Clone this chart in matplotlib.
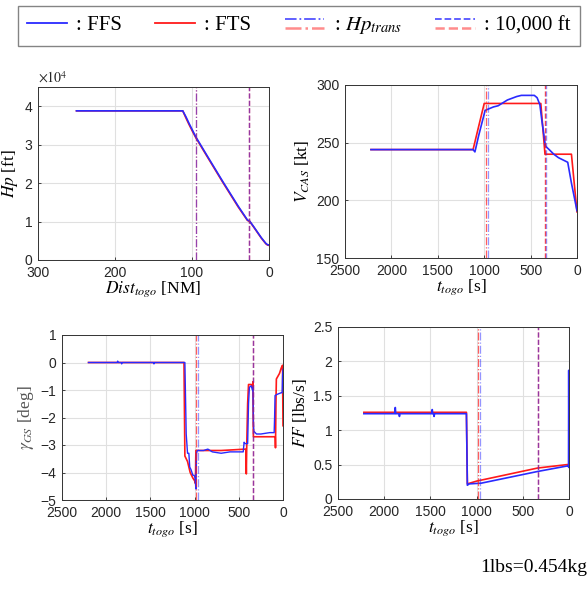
import numpy as np
import matplotlib.pyplot as plt
from matplotlib.lines import Line2D
from matplotlib.legend_handler import HandlerBase

plt.rcParams['mathtext.fontset'] = 'stix'
plt.rcParams['font.family'] = 'Liberation Sans'

# Hp vs distance to go
dist_ffs = [250, 112, 108, 104, 100, 95, 80, 60, 40, 28, 25, 20, 10, 4, 2, 0]
hp_ffs = [38800, 38800, 37300, 35600, 34000, 32000, 27000, 20400, 14000, 10400, 10100, 8700, 5800, 4300, 4000, 3900]
dist_fts = [250, 112, 108, 104, 100, 95, 80, 60, 40, 28, 25, 20, 10, 4, 2, 0]
hp_fts = [38800, 38800, 37000, 35300, 33700, 31800, 26800, 20200, 13800, 10300, 10000, 8600, 5700, 4200, 3900, 3800]

# CAS vs time to go
t_vcas_ffs = [2220, 1120, 1100, 1060, 990, 900, 850, 750, 650, 600, 460, 430, 400, 380, 340, 300, 250, 200, 100, 60, 0]
vcas_ffs = [244, 244, 242, 256, 278, 281, 282, 287, 290, 291, 291, 289, 283, 270, 247, 244, 240, 237, 233, 215, 191]
t_vcas_fts = [2220, 1120, 1000, 390, 345, 60, 0]
vcas_fts = [244, 244, 284, 284, 240, 240, 190]

# flight path angle vs time to go
t_gam_ffs = [2200, 1875, 1870, 1865, 1830, 1825, 1820, 1465, 1460, 1455, 1110, 1095, 1080, 1065, 1055, 1040, 1020, 1005,
             995, 990, 985, 978, 970, 900, 850, 800, 700, 600, 450, 440, 430, 400, 390, 380, 360, 345, 340, 335, 330,
             300, 250, 150, 100, 95, 90, 60, 20, 10, 5, 0]
gam_ffs = [0, 0, 0.05, 0, 0, -0.05, 0, 0, -0.05, 0, 0, -2.6, -3.3, -3.3, -3.8, -3.9, -4.1, -4.1,
           -4.2, -4.4, -4.6, -3.3, -3.2, -3.2, -3.15, -3.25, -3.3, -3.25, -3.25, -2.9, -2.95, -2.95, -1.5, -0.9, -0.85, -1.0, -0.9, -2.2, -2.5,
           -2.6, -2.6, -2.55, -2.55, -2.0, -1.2, -1.15, -1.1, -1.1, -0.5, -0.25]
t_gam_fts = [2200, 1120, 1110, 1080, 1050, 1020, 1000, 990, 987, 985, 700, 420, 415, 410, 400, 390, 360, 345, 340, 335,
             300, 100, 88, 85, 80, 75, 40, 20, 5, 2, 0]
gam_fts = [0, 0, -3.4, -3.6, -4.0, -4.2, -4.3, -4.4, -3.5, -3.2, -3.2, -3.15, -4.05, -3.0, -1.5, -0.8, -0.8, -0.9, -0.7, -2.7,
           -2.7, -2.7, -2.7, -3.1, -1.5, -0.6, -0.4, -0.2, -0.1, -1.5, -2.3]

# fuel flow vs time to go
t_ff_ffs = [2220, 1885, 1880, 1875, 1840, 1835, 1830, 1485, 1480, 1475, 1465, 1460, 1455, 1110, 1100, 1080, 950, 340, 20, 5, 3, 0]
ff_ffs = [1.24, 1.24, 1.33, 1.24, 1.24, 1.2, 1.24, 1.24, 1.3, 1.24, 1.24, 1.2, 1.24, 1.24, 0.2, 0.22, 0.23, 0.4, 0.48, 0.47, 1.87, 0.46]
t_ff_fts = [2220, 1110, 1100, 1000, 340, 20, 1, 0]
ff_fts = [1.26, 1.26, 0.22, 0.26, 0.45, 0.5, 0.5, 0.48]

# transition markers
dist_trans = [95, 95]
dist_10k = [26, 26]
t_trans = [960, 985]
t_10k = [337, 340]

BLUE = '#2a2aff'
RED = '#ff1a1a'
W, H = 588, 589
fig = plt.figure(figsize=(W / 100, H / 100), dpi=100)


def px_axes(l, r, t, b):
    return fig.add_axes([l / W, (H - b) / H, (r - l) / W, (b - t) / H])


def style(ax, xlim, ylim, xticks, yticks, xlabel, ylabel, lcolor='black'):
    ax.set_xlim(xlim)
    ax.set_ylim(ylim)
    ax.set_xticks(xticks)
    ax.set_yticks(yticks)
    ax.grid(True, color='#e0e0e0', lw=0.8)
    ax.set_axisbelow(True)
    ax.tick_params(direction='in', length=2.5, width=0.6, labelsize=10, colors='#262626', pad=4)
    for s in ax.spines.values():
        s.set_linewidth(0.7)
        s.set_color('#333333')
    ax.set_xlabel(xlabel, fontsize=12.5, family='Liberation Serif', labelpad=0)
    ax.set_ylabel(ylabel, fontsize=12.5, family='Liberation Serif', labelpad=3, color=lcolor)


def vlines(ax, xs_trans, xs_10k):
    ax.axvline(xs_trans[1], color=RED, lw=0.9, ls='-.', alpha=0.7)
    ax.axvline(xs_trans[0], color=BLUE, lw=0.9, ls='-.', alpha=0.5)
    ax.axvline(xs_10k[1], color=RED, lw=1.0, ls='--', alpha=0.8)
    ax.axvline(xs_10k[0], color=BLUE, lw=1.0, ls='--', alpha=0.5)


# panel 1
ax1 = px_axes(38, 269, 87, 260)
ax1.plot(dist_fts, hp_fts, color=RED, lw=1.2)
ax1.plot(dist_ffs, hp_ffs, color=BLUE, lw=1.2)
vlines(ax1, dist_trans, dist_10k)
style(ax1, (300, 0), (0, 45000), [300, 200, 100, 0], [0, 10000, 20000, 30000, 40000],
      r'$Dist_{togo}$ [NM]', r'$Hp$ [ft]')
ax1.set_yticklabels(['0', '1', '2', '3', '4'])
ax1.text(0.0, 1.01, r'$\times10^4$', transform=ax1.transAxes, fontsize=10, color='#262626',
         va='bottom', ha='left', family='Liberation Sans')

# panel 2
ax2 = px_axes(345, 577, 85, 258)
ax2.plot(t_vcas_fts, vcas_fts, color=RED, lw=1.2)
ax2.plot(t_vcas_ffs, vcas_ffs, color=BLUE, lw=1.2)
vlines(ax2, t_trans, t_10k)
style(ax2, (2500, 0), (150, 300), [2500, 2000, 1500, 1000, 500, 0], [150, 200, 250, 300],
      r'$t_{togo}$ [s]', r'$V_{CAS}$ [kt]')

# panel 3
ax3 = px_axes(62, 283, 335, 500)
ax3.plot(t_gam_fts, gam_fts, color=RED, lw=1.2)
ax3.plot(t_gam_ffs, gam_ffs, color=BLUE, lw=1.0)
vlines(ax3, t_trans, t_10k)
style(ax3, (2500, 0), (-5, 1), [2500, 2000, 1500, 1000, 500, 0], [-5, -4, -3, -2, -1, 0, 1],
      r'$t_{togo}$ [s]', r'$\gamma_{GS}$ [deg]', lcolor='#555555')

# panel 4
ax4 = px_axes(338, 569, 327, 499)
ax4.plot(t_ff_fts, ff_fts, color=RED, lw=1.2)
ax4.plot(t_ff_ffs, ff_ffs, color=BLUE, lw=1.2)
vlines(ax4, t_trans, t_10k)
style(ax4, (2500, 0), (0, 2.5), [2500, 2000, 1500, 1000, 500, 0], [0, 0.5, 1, 1.5, 2, 2.5],
      r'$t_{togo}$ [s]', r'$FF$ [lbs/s]')
ax4.set_yticklabels(['0', '0.5', '1', '1.5', '2', '2.5'])


# legend with stacked blue/red handles
class Stacked(HandlerBase):
    def create_artists(self, legend, orig_handle, xdescent, ydescent, width, height, fontsize, trans):
        arts = []
        for i, ln in enumerate(orig_handle):
            y = height * (0.8 - 0.6 * i) - ydescent
            a = Line2D([-xdescent, width - xdescent], [y, y], color=ln.get_color(),
                       ls=ln.get_linestyle(), lw=ln.get_linewidth(), alpha=ln.get_alpha())
            a.set_transform(trans)
            arts.append(a)
        return arts


h_ffs = Line2D([], [], color=BLUE, lw=1.3)
h_fts = Line2D([], [], color=RED, lw=1.3)
h_trans = (Line2D([], [], color=BLUE, lw=1.3, ls='-.', alpha=0.8), Line2D([], [], color=RED, lw=1.8, ls='-.', alpha=0.5))
h_10k = (Line2D([], [], color=BLUE, lw=1.3, ls='--', alpha=0.8), Line2D([], [], color=RED, lw=1.8, ls='--', alpha=0.5))
leg = fig.legend([h_ffs, h_fts, h_trans, h_10k], [': FFS', ': FTS', r': $Hp_{trans}$', ': 10,000 ft'],
                 loc='center', bbox_to_anchor=(299 / W, 1 - 26 / H), ncol=4, frameon=True, fancybox=False,
                 prop={'family': 'Liberation Serif', 'size': 15}, handlelength=1.9, handletextpad=0.45,
                 columnspacing=1.6, borderpad=0.45, borderaxespad=0, handler_map={tuple: Stacked()})
leg.get_frame().set_edgecolor('#666666')
leg.get_frame().set_linewidth(1.0)

fig.text(587 / W, 1 - 567 / H, '1lbs=0.454kg', ha='right', va='center', fontsize=14, family='Liberation Serif')

fig.savefig('out.png', dpi=100)
